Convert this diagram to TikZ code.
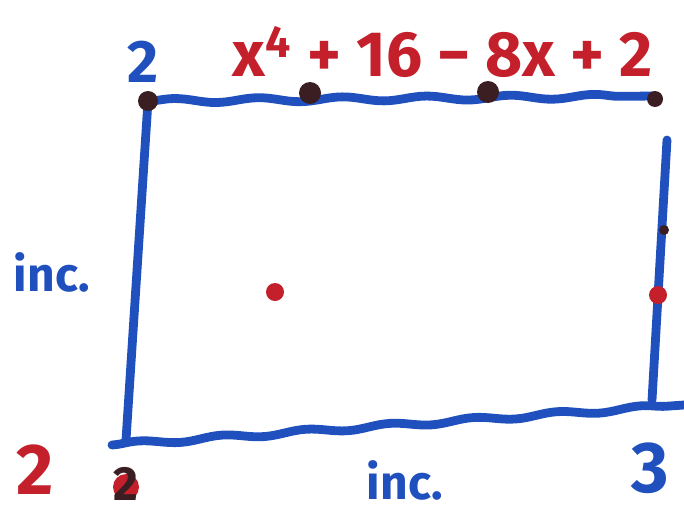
\documentclass[tikz,border=0pt]{standalone}
\usepackage{fontspec}
\setmainfont{Fira Sans}
\usetikzlibrary{positioning,decorations.pathmorphing}
\definecolor{skBlue}{HTML}{1F50BE}
\definecolor{skRed}{HTML}{C4202C}
\definecolor{skDark}{HTML}{3B1E22}
\tikzset{
  edge/.style={line width=4.4pt, skBlue, line cap=round, line join=round},
  wavy/.style={edge, decorate, decoration={snake, amplitude=1.1pt, segment length=42pt}},
  dot/.style={circle, fill=skRed, inner sep=0pt, minimum size=9pt},
  darkdot/.style={dot, fill=skDark, minimum size=10pt},
  redtag/.style={text=skRed, font=\bfseries\fontsize{32}{34}\selectfont, inner sep=0pt},
  bluetag/.style={text=skBlue, font=\bfseries\fontsize{24}{26}\selectfont, inner sep=0pt},
  cornertag/.style={text=skBlue, font=\bfseries\fontsize{30}{32}\selectfont, inner sep=0pt}
}
\begin{document}
\begin{tikzpicture}[x=0.5pt,y=-0.5pt]
  \useasboundingbox (0,0) rectangle (684,514);
  % corners of the box
  \coordinate (tl) at (148,101);
  \coordinate (tr) at (655,96);
  \coordinate (rt) at (667,140);
  \coordinate (rb) at (652,400);
  \coordinate (bl) at (112,445);
  \coordinate (br) at (684,405);
  \coordinate (lb) at (126,440);

  \draw[edge] (tl) -- (lb);
  \draw[wavy] (tl) -- (tr);
  \draw[edge] (rt) -- (rb);
  \draw[wavy] (bl) -- (br);

  % points on the boundary
  \node[darkdot] (ptl) at (tl) {};
  \node[darkdot, minimum size=11pt] (ptop1) at (310,93) {};
  \node[darkdot, minimum size=11pt] (ptop2) at (488,92) {};
  \node[darkdot, minimum size=8pt] (ptr) at (655,99) {};
  \node[darkdot, minimum size=5pt] (pright1) at (664,230) {};
  \node[dot] (pright2) at (658,295) {};
  \node[dot] (pmid) at (275,292) {};

  % labels
  \node[redtag] (fval) at (443,52) {x\textsuperscript{4} + 16 − 8x + 2};
  \node[cornertag] (ctl) at (143,62) {2};
  \node[bluetag] (incl) at (52,272) {inc.};
  \node[bluetag] (incb) at (405,480) {inc.};
  \node[redtag, font=\bfseries\fontsize{36}{38}\selectfont] (cbl) at (35,470) {2};
  \node[dot, minimum size=13pt] (pbl) at (126,487) {};
  \node[cornertag, text=skDark, font=\bfseries\fontsize{24}{26}\selectfont] (cbl2) at (126,484) {2};
  \node[cornertag, font=\bfseries\fontsize{36}{38}\selectfont] (cbr) at (650,468) {3};
\end{tikzpicture}
\end{document}
